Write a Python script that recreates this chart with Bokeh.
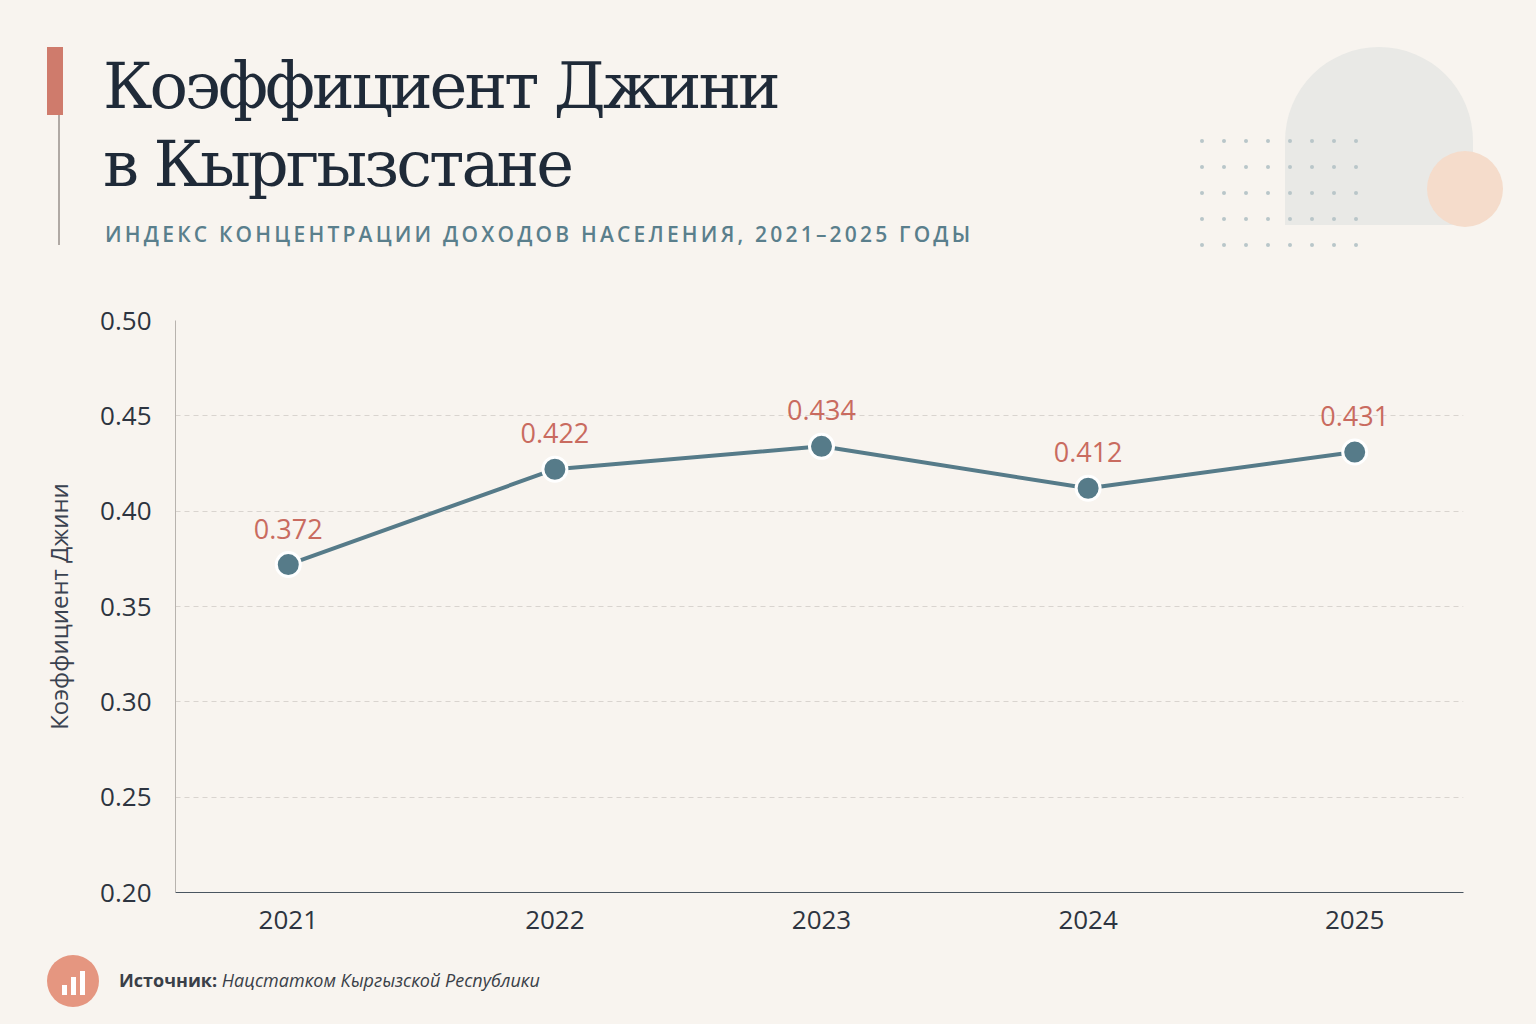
from bokeh.plotting import figure
from bokeh.models import Div, FixedTicker, ColumnDataSource, LabelSet, CustomJSTickFormatter
from bokeh.core.properties import value
from bokeh.layouts import column
from bokeh.embed import file_html
from bokeh.resources import INLINE

years = [2021, 2022, 2023, 2024, 2025]
gini = [0.372, 0.422, 0.434, 0.412, 0.431]
labels = ["0.372", "0.422", "0.434", "0.412", "0.431"]
yticks = [0.20, 0.25, 0.30, 0.35, 0.40, 0.45, 0.50]

BG = "#f8f4ef"
W = 1520

dots = "".join(
    f'<div style="position:absolute;left:{1195+i*22}px;top:{134+j*26}px;width:4px;height:4px;border-radius:2px;background:#b9c6c9"></div>'
    for i in range(8) for j in range(5))

header = Div(width=W, height=290, styles={"background": BG, "position": "relative"}, text=f"""
<div style="position:relative;width:{W}px;height:290px;font-family:'Open Sans'">
<div style="position:absolute;left:1280px;top:42px;width:188px;height:178px;border-radius:94px 94px 0 0;background:#e9e9e6"></div>
<div style="position:absolute;left:1422px;top:146px;width:76px;height:76px;border-radius:38px;background:#f5dccb"></div>
{dots}
<div style="position:absolute;left:42px;top:42px;width:16px;height:68px;background:#cf7b6c"></div>
<div style="position:absolute;left:53px;top:110px;width:2px;height:130px;background:#b0a9a4"></div>
<div style="position:absolute;left:98px;top:42px;font-family:'DejaVu Serif';font-size:64px;line-height:78px;color:#1f2a38;letter-spacing:-3px">Коэффициент Джини<br>в Кыргызстане</div>
<div style="position:absolute;left:100px;top:214px;font-size:21px;letter-spacing:3.2px;color:#5a7f8c;font-weight:600">ИНДЕКС КОНЦЕНТРАЦИИ ДОХОДОВ НАСЕЛЕНИЯ, 2021–2025 ГОДЫ</div>
</div>""")

p = figure(width=W, height=650, output_backend="svg", toolbar_location=None,
           x_range=(2020.577, 2025.408), y_range=(0.20, 0.50),
           min_border_left=175, min_border_right=57, min_border_top=20, min_border_bottom=58,
           background_fill_color=BG, border_fill_color=BG, outline_line_color=None)
p.xgrid.visible = False
p.ygrid.grid_line_color = "#d9d4cf"
p.ygrid.grid_line_dash = "5 4"
p.yaxis.ticker = FixedTicker(ticks=yticks)
p.xaxis.ticker = FixedTicker(ticks=years)
p.yaxis.formatter = CustomJSTickFormatter(code="return tick.toFixed(2)")
for ax in (p.xaxis, p.yaxis):
    ax.major_label_text_font = "Open Sans"
    ax.major_label_text_font_size = "26px"
    ax.major_label_text_color = "#2d3440"
    ax.major_tick_line_color = None
    ax.minor_tick_line_color = None
p.xaxis.axis_line_color = "#4a5560"
p.yaxis.axis_line_color = "#b8b3ae"
p.xaxis.major_label_standoff = 12
p.yaxis.major_label_standoff = 18
p.yaxis.axis_label = "Коэффициент Джини"
p.yaxis.axis_label_text_font = "Open Sans"
p.yaxis.axis_label_text_font_style = "normal"
p.yaxis.axis_label_text_font_size = "24px"
p.yaxis.axis_label_text_color = "#3a4250"
p.yaxis.axis_label_standoff = 22

src = ColumnDataSource(dict(x=years, y=gini, t=labels))
p.line("x", "y", source=src, line_color="#567b89", line_width=4)
p.scatter("x", "y", source=src, size=24, fill_color="#567b89", line_color="white", line_width=3)
p.add_layout(LabelSet(x="x", y="y", text="t", source=src, y_offset=26, text_align="center",
                      text_font=value("Open Sans"), text_font_size="27px", text_color="#c96b5f"))

footer = Div(width=W, height=68, styles={"background": BG}, text="""
<div style="position:relative;width:1520px;height:68px;font-family:'Open Sans'">
<div style="position:absolute;left:42px;top:0px;width:52px;height:52px;border-radius:26px;background:#e59680"></div>
<div style="position:absolute;left:57px;top:30px;width:5px;height:10px;background:#fff"></div>
<div style="position:absolute;left:66px;top:22px;width:5px;height:18px;background:#fff"></div>
<div style="position:absolute;left:75px;top:16px;width:5px;height:24px;background:#fff"></div>
<div style="position:absolute;left:114px;top:13px;font-size:18px;color:#3a3f48"><b>Источник:</b> <i>Нацстатком Кыргызской Республики</i></div>
</div>""")

layout = column(header, p, footer, spacing=0, styles={"background": BG})
html = file_html(layout, INLINE).replace("<body>", f'<body style="background:{BG}">')
open("out.html", "w").write(html)
